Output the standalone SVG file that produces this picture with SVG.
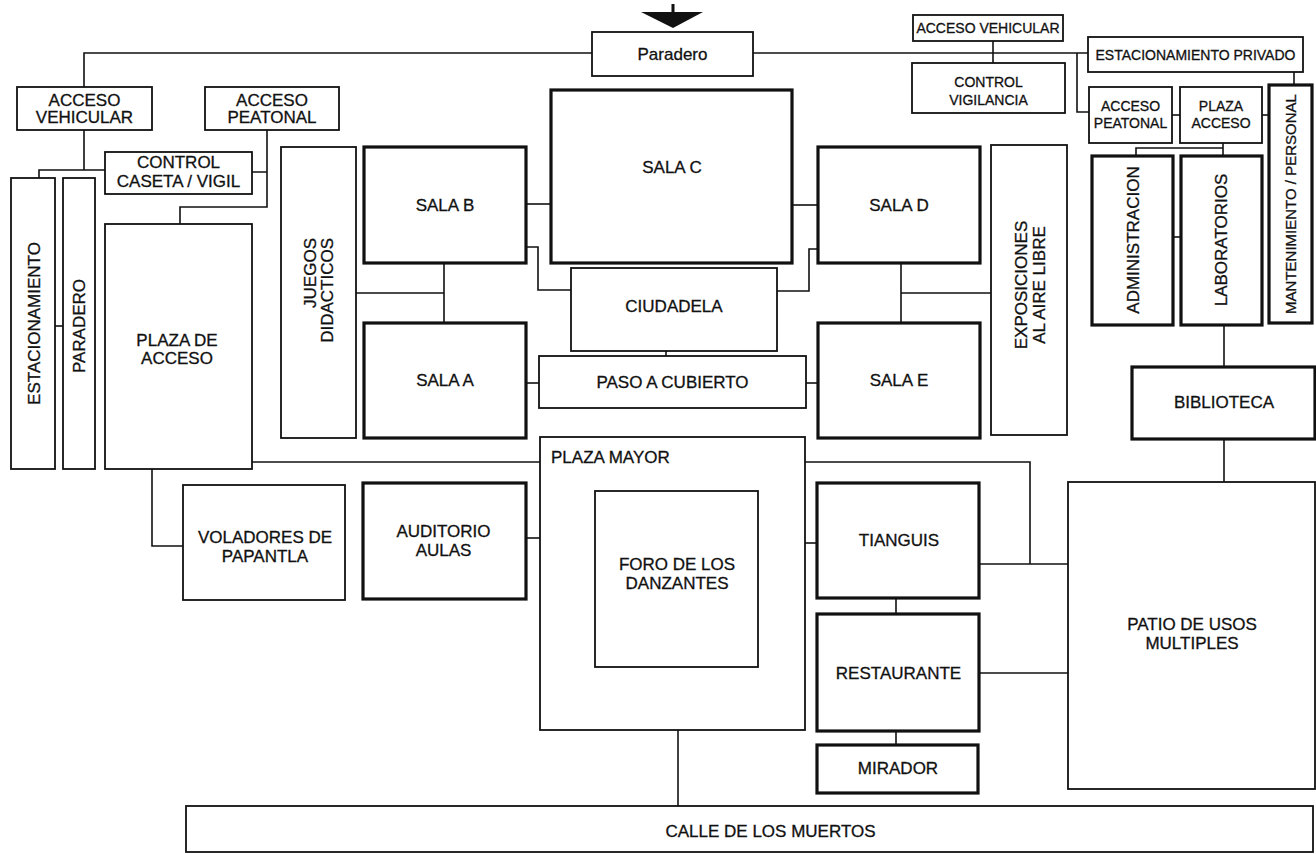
<svg xmlns="http://www.w3.org/2000/svg" width="1316" height="854" viewBox="0 0 1316 854">
<style>
.b{fill:#fff;stroke:#111;stroke-width:1.8}
.k{fill:#fff;stroke:#111;stroke-width:3.2}
.c{fill:none;stroke:#111;stroke-width:1.6}
text{font-family:"Liberation Sans",Arial,Helvetica,sans-serif;font-size:17px;fill:#111;stroke:#111;stroke-width:0.3;text-anchor:middle}
.s{font-size:14px}
.m{font-size:15px}
.l{text-anchor:start}
</style>
<rect width="1316" height="854" fill="#fff"/>
<g id="connectors">
<path class="c" d="M84 87V53H592"/>
<path class="c" d="M753 53H1088"/>
<path class="c" d="M993 41V63"/>
<path class="c" d="M1077 53V112H1089"/>
<path class="c" d="M1172 115H1180"/>
<path class="c" d="M1262 115H1269"/>
<path class="c" d="M1294 72V85"/>
<path class="c" d="M1223 143V156M1136 156V148H1223"/>
<path class="c" d="M1173 237H1181"/>
<path class="c" d="M1224 325V367"/>
<path class="c" d="M1224 439V482"/>
<path class="c" d="M84 130V170M39 178V170H105"/>
<path class="c" d="M267 130V207H180V224M252 172H267"/>
<path class="c" d="M55 326H63"/>
<path class="c" d="M356 293H444M444 263V323"/>
<path class="c" d="M526 204H551"/>
<path class="c" d="M526 247H538V290H571"/>
<path class="c" d="M526 383H539"/>
<path class="c" d="M666 351V356"/>
<path class="c" d="M792 205H818"/>
<path class="c" d="M777 291H809V249H818"/>
<path class="c" d="M806 383H818"/>
<path class="c" d="M901 263V323M901 293H991"/>
<path class="c" d="M252 462H540"/>
<path class="c" d="M152 469V546H183"/>
<path class="c" d="M526 538H540"/>
<path class="c" d="M805 543H817"/>
<path class="c" d="M805 462H1030V564"/>
<path class="c" d="M979 564H1068"/>
<path class="c" d="M979 673H1068"/>
<path class="c" d="M896 598V614M896 731V745"/>
<path class="c" d="M678 730V806"/>
</g>
<g id="arrow">
<rect x="671.5" y="4" width="3" height="9" fill="#111"/>
<polygon points="641,12 703,12 673,28" fill="#111"/>
</g>
<g id="acceso-vehicular-l"><rect class="b" x="17" y="87" width="135" height="43"/><text x="84.5" y="106">ACCESO</text><text x="84.5" y="123">VEHICULAR</text></g>
<g id="acceso-peatonal-l"><rect class="b" x="205" y="87" width="134" height="43"/><text x="272" y="106">ACCESO</text><text x="272" y="123">PEATONAL</text></g>
<g id="control-caseta"><rect class="b" x="105" y="152" width="147" height="42"/><text x="178.5" y="168">CONTROL</text><text x="178.5" y="187">CASETA / VIGIL</text></g>
<g id="paradero-top"><rect class="b" x="592" y="32" width="161" height="44"/><text x="672.5" y="60">Paradero</text></g>
<g id="acceso-vehicular-r"><rect class="b" x="913" y="15" width="150" height="26"/><text class="s" x="988" y="33">ACCESO VEHICULAR</text></g>
<g id="control-vigilancia"><rect class="b" x="912" y="63" width="153" height="50"/><text class="s" x="988.5" y="87">CONTROL</text><text class="s" x="988.5" y="105">VIGILANCIA</text></g>
<g id="estacionamiento-privado"><rect class="b" x="1088" y="37" width="215" height="35"/><text class="s" x="1195.5" y="60">ESTACIONAMIENTO PRIVADO</text></g>
<g id="acceso-peatonal-r"><rect class="b" x="1089" y="87" width="83" height="56"/><text class="s" x="1130.5" y="111">ACCESO</text><text class="s" x="1130.5" y="128">PEATONAL</text></g>
<g id="plaza-acceso-r"><rect class="b" x="1180" y="87" width="82" height="56"/><text class="s" x="1221" y="111">PLAZA</text><text class="s" x="1221" y="128">ACCESO</text></g>
<g id="mantenimiento"><rect class="k" x="1269" y="85" width="43" height="238"/><text class="m" transform="translate(1296 204) rotate(-90)">MANTENIMIENTO / PERSONAL</text></g>
<g id="administracion"><rect class="k" x="1092" y="156" width="81" height="169"/><text transform="translate(1139 240) rotate(-90)">ADMINISTRACION</text></g>
<g id="laboratorios"><rect class="k" x="1181" y="156" width="81" height="169"/><text transform="translate(1227 240) rotate(-90)">LABORATORIOS</text></g>
<g id="biblioteca"><rect class="k" x="1132" y="367" width="183" height="72"/><text x="1224" y="408">BIBLIOTECA</text></g>
<g id="patio"><rect class="b" x="1068" y="482" width="247" height="307"/><text x="1192" y="630">PATIO DE USOS</text><text x="1192" y="649">MULTIPLES</text></g>
<g id="estacionamiento"><rect class="b" x="11" y="178" width="44" height="291"/><text transform="translate(40 323.5) rotate(-90)">ESTACIONAMIENTO</text></g>
<g id="paradero-v"><rect class="b" x="63" y="178" width="32" height="291"/><text transform="translate(85 326) rotate(-90)">PARADERO</text></g>
<g id="plaza-de-acceso"><rect class="b" x="105" y="224" width="147" height="245"/><text x="177" y="346">PLAZA DE</text><text x="177" y="364">ACCESO</text></g>
<g id="juegos"><rect class="b" x="281" y="147" width="75" height="291"/><text transform="translate(316 238) rotate(-90)" style="text-anchor:end">JUEGOS</text><text transform="translate(333 238) rotate(-90)" style="text-anchor:end">DIDACTICOS</text></g>
<g id="sala-b"><rect class="k" x="364" y="147" width="162" height="116"/><text x="445" y="211">SALA B</text></g>
<g id="sala-a"><rect class="k" x="364" y="323" width="162" height="115"/><text x="445" y="386">SALA A</text></g>
<g id="sala-c"><rect class="k" x="551" y="90" width="241" height="173"/><text x="672" y="173">SALA C</text></g>
<g id="ciudadela"><rect class="b" x="571" y="268" width="206" height="83"/><text x="674" y="312">CIUDADELA</text></g>
<g id="paso-a-cubierto"><rect class="b" x="539" y="356" width="267" height="52"/><text x="672.5" y="388">PASO A CUBIERTO</text></g>
<g id="sala-d"><rect class="k" x="818" y="147" width="162" height="116"/><text x="899" y="211">SALA D</text></g>
<g id="sala-e"><rect class="k" x="818" y="323" width="162" height="115"/><text x="899" y="386">SALA E</text></g>
<g id="exposiciones"><rect class="b" x="991" y="145" width="76" height="290"/><text transform="translate(1027 285) rotate(-90)">EXPOSICIONES</text><text transform="translate(1045 285) rotate(-90)">AL AIRE LIBRE</text></g>
<g id="plaza-mayor"><rect class="b" x="540" y="437" width="265" height="293"/><text class="l" x="551" y="463">PLAZA MAYOR</text></g>
<g id="foro"><rect class="b" x="595" y="491" width="163" height="176"/><text x="677" y="570">FORO DE LOS</text><text x="677" y="589">DANZANTES</text></g>
<g id="voladores"><rect class="b" x="183" y="485" width="162" height="115"/><text x="265" y="543">VOLADORES DE</text><text x="265" y="562">PAPANTLA</text></g>
<g id="auditorio"><rect class="k" x="363" y="483" width="163" height="116"/><text x="443.5" y="537">AUDITORIO</text><text x="443.5" y="556">AULAS</text></g>
<g id="tianguis"><rect class="k" x="817" y="483" width="162" height="115"/><text x="899" y="546">TIANGUIS</text></g>
<g id="restaurante"><rect class="k" x="817" y="614" width="162" height="117"/><text x="898.5" y="679">RESTAURANTE</text></g>
<g id="mirador"><rect class="k" x="817" y="745" width="161" height="48"/><text x="898" y="774">MIRADOR</text></g>
<g id="calle"><rect class="b" x="186" y="806" width="1127" height="46"/><text x="770.5" y="837">CALLE DE LOS MUERTOS</text></g>
</svg>
